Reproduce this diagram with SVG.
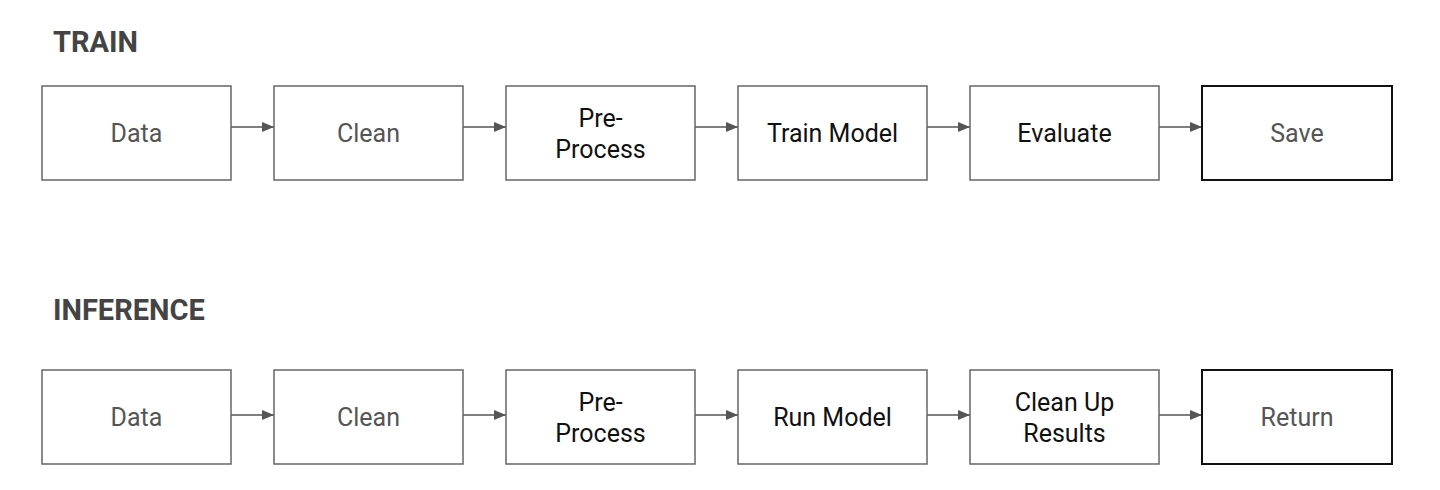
<svg xmlns="http://www.w3.org/2000/svg" width="1440" height="490" viewBox="0 0 1440 490">
<defs>
<marker id="ah2" viewBox="0 0 12 10" refX="12" refY="5" markerWidth="13" markerHeight="10" markerUnits="userSpaceOnUse" orient="auto">
<path d="M0,0 L12,5 L0,10 z" fill="#555"/>
</marker>
</defs>
<style>
.box{fill:#fff;stroke:#666;stroke-width:1.5}
.end{fill:#fff;stroke:#111;stroke-width:2}
.t{font-family:Roboto,"Liberation Sans",sans-serif;font-size:25px;text-anchor:middle}
.g{fill:#555}
.k{fill:#111}
.h{font-family:Roboto,"Liberation Sans",sans-serif;font-size:29px;font-weight:bold;fill:#444}
.c{stroke:#555;stroke-width:1.5;fill:none;marker-end:url(#ah2)}
</style>
<rect width="1440" height="490" fill="#fff"/>
<text class="h" x="53" y="52">TRAIN</text>
<text class="h" x="53" y="320">INFERENCE</text>
<g id="connectors">
<line class="c" x1="231" y1="127" x2="274" y2="127"/>
<line class="c" x1="463" y1="127" x2="506" y2="127"/>
<line class="c" x1="695" y1="127" x2="738" y2="127"/>
<line class="c" x1="927" y1="127" x2="970" y2="127"/>
<line class="c" x1="1159" y1="127" x2="1202" y2="127"/>
<line class="c" x1="231" y1="415" x2="274" y2="415"/>
<line class="c" x1="463" y1="415" x2="506" y2="415"/>
<line class="c" x1="695" y1="415" x2="738" y2="415"/>
<line class="c" x1="927" y1="415" x2="970" y2="415"/>
<line class="c" x1="1159" y1="415" x2="1202" y2="415"/>
</g>
<g id="train-data"><rect class="box" x="42" y="86" width="189" height="94"/><text class="t g" x="136.5" y="142">Data</text></g>
<g id="train-clean"><rect class="box" x="274" y="86" width="189" height="94"/><text class="t g" x="368.5" y="142">Clean</text></g>
<g id="train-preprocess"><rect class="box" x="506" y="86" width="189" height="94"/><text class="t k" x="600.5" y="127">Pre-</text><text class="t k" x="600.5" y="158">Process</text></g>
<g id="train-model"><rect class="box" x="738" y="86" width="189" height="94"/><text class="t k" x="832.5" y="142">Train Model</text></g>
<g id="train-evaluate"><rect class="box" x="970" y="86" width="189" height="94"/><text class="t k" x="1064.5" y="142">Evaluate</text></g>
<g id="train-save"><rect class="end" x="1202" y="86" width="190" height="94"/><text class="t g" x="1297" y="142">Save</text></g>
<g id="inf-data"><rect class="box" x="42" y="370" width="189" height="94"/><text class="t g" x="136.5" y="426">Data</text></g>
<g id="inf-clean"><rect class="box" x="274" y="370" width="189" height="94"/><text class="t g" x="368.5" y="426">Clean</text></g>
<g id="inf-preprocess"><rect class="box" x="506" y="370" width="189" height="94"/><text class="t k" x="600.5" y="411">Pre-</text><text class="t k" x="600.5" y="442">Process</text></g>
<g id="inf-model"><rect class="box" x="738" y="370" width="189" height="94"/><text class="t k" x="832.5" y="426">Run Model</text></g>
<g id="inf-cleanup"><rect class="box" x="970" y="370" width="189" height="94"/><text class="t k" x="1064.5" y="411">Clean Up</text><text class="t k" x="1064.5" y="442">Results</text></g>
<g id="inf-return"><rect class="end" x="1202" y="370" width="190" height="94"/><text class="t g" x="1297" y="426">Return</text></g>
</svg>
